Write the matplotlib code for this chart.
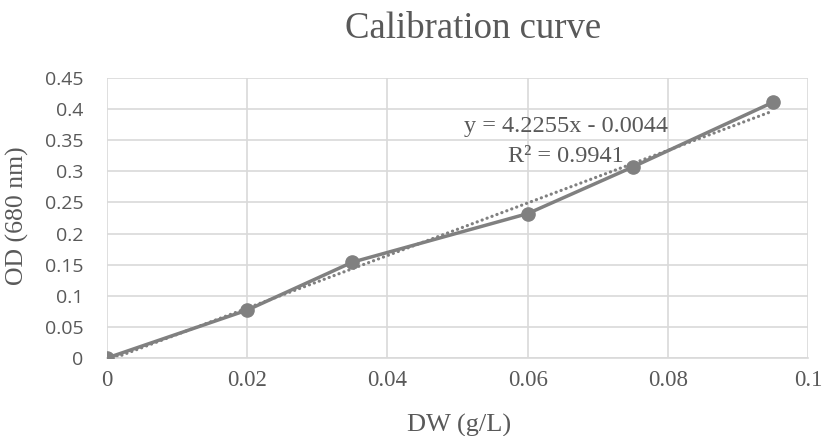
import matplotlib
matplotlib.use("Agg")
import matplotlib.pyplot as plt
import numpy as np

dw = [0, 0.02, 0.035, 0.06, 0.075, 0.095]
od = [0, 0.077, 0.154, 0.232, 0.307, 0.411]
slope, intercept = 4.2255, -0.0044
r2 = 0.9941
xticks = [0, 0.02, 0.04, 0.06, 0.08, 0.1]
xticklabels = ["0", "0.02", "0.04", "0.06", "0.08", "0.1"]
yticks = [0, 0.05, 0.1, 0.15, 0.2, 0.25, 0.3, 0.35, 0.4, 0.45]
yticklabels = ["0", "0.05", "0.1", "0.15", "0.2", "0.25", "0.3", "0.35", "0.4", "0.45"]

serif = "Liberation Serif"
sans = "Open Sans"
gray = "#808080"
txt = "#595959"

W, H = 828, 436
fig = plt.figure(figsize=(W / 100, H / 100), dpi=100)
ax = fig.add_axes([107 / W, 1 - 358 / H, (808 - 107) / W, (358 - 78) / H])

ax.plot(dw, od, color=gray, lw=2.5, marker="o", ms=9.5, zorder=3)
xfit = np.array([dw[0], dw[-1]])
ax.plot(xfit, slope * xfit + intercept, color=gray, lw=2.3,
        ls=(0, (0.05, 1.6)), dash_capstyle="round", zorder=2)

ax.set_xlim(0, 0.1)
ax.set_ylim(0, 0.45)
ax.set_xticks(xticks)
ax.set_xticklabels(xticklabels, fontfamily=serif, fontsize=16.5, color=txt)
ax.set_yticks(yticks)
ax.set_yticklabels(yticklabels, fontfamily=sans, fontsize=14, color=txt)
ax.tick_params(axis="y", length=0, pad=17)
ax.tick_params(axis="x", length=0, pad=9)
ax.grid(True, color="#d9d9d9", lw=1.2)
ax.set_axisbelow(True)
for s in ["top", "right", "left"]:
    ax.spines[s].set_visible(False)
ax.spines["bottom"].set_color("#d9d9d9")
ax.spines["bottom"].set_linewidth(1.2)

fig.text(459 / W, 1 - 432 / H, "DW (g/L)", fontfamily=serif, fontsize=19, color=txt,
         ha="center", va="baseline")
fig.text(17 / W, 1 - 216 / H, "OD (680 nm)", fontfamily=serif, fontsize=18.5, color=txt,
         ha="center", va="center", rotation=90)
fig.text(473 / W, 1 - 38 / H, "Calibration curve", fontfamily=serif, fontsize=26.5,
         color=txt, ha="center", va="baseline")

ax.text(0.0655, 0.363, f"y = {slope}x - {abs(intercept)}", fontfamily=serif, fontsize=17.5,
        color=txt, ha="center", va="baseline")
ax.text(0.0655, 0.315, f"R² = {r2}", fontfamily=serif, fontsize=17.5,
        color=txt, ha="center", va="baseline")

fig.savefig("out.png", dpi=100)
